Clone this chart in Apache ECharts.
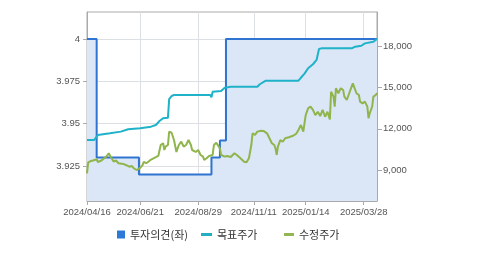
<!DOCTYPE html>
<html><head><meta charset="utf-8">
<script src="https://cdn.jsdelivr.net/npm/echarts@6/dist/echarts.min.js"></script>
<style>html,body{margin:0;padding:0;background:#fff}#c{width:479px;height:255px}</style>
</head><body><div id="c"></div>
<script>
// KRX trading days (categories)
const startDate = '2024-04-16';
const endDate = '2025-04-14';
const holidays = ['2024-05-01','2024-05-06','2024-05-15','2024-06-06','2024-08-15','2024-09-16','2024-09-17','2024-09-18','2024-10-01','2024-10-03','2024-10-09','2024-12-25','2024-12-31','2025-01-01','2025-01-27','2025-01-28','2025-01-29','2025-01-30','2025-03-03'];
const tickLabels = ['2024/04/16','2024/06/21','2024/08/29','2024/11/11','2025/01/14','2025/03/28'];
const leftTicks = [3.925, 3.95, 3.975, 4];
const rightTicks = [9000, 12000, 15000, 18000];
// 투자의견(좌): [trading-day index, value] at change points
const opinion = [[0,4],[8,3.93],[43,3.92],[103,3.93],[110,3.94],[115,4],[240,4]];
// 목표주가
const target = [[0,11200],[6,11200],[9,11550],[19,11680],[28,11800],[34,11970],[44,12040],[53,12160],[57,12280],[60,12570],[63,12770],[67,12810],[68,14150],[70,14380],[72,14450],[102,14450],[103,14290],[104,14690],[111,14740],[114,14980],[119,15050],[141,15050],[143,15230],[148,15490],[175,15490],[177,15700],[180,16000],[183,16390],[187,16680],[190,16990],[192,17780],[194,17830],[219,17830],[222,17950],[227,18020],[230,18190],[237,18310],[240,18510]];
// 수정주가
const price = [[0,8780],[1,9570],[3,9670],[5,9710],[6,9640],[8,9800],[9,9600],[12,9710],[14,9860],[16,9990],[18,10230],[19,10110],[20,9930],[22,9640],[24,9710],[26,9510],[27,9600],[30,9460],[31,9550],[33,9350],[35,9260],[37,9310],[39,9130],[41,9020],[42,8910],[44,9170],[46,9380],[47,9620],[49,9510],[51,9640],[53,9780],[55,9870],[57,9960],[59,10040],[61,10830],[63,10960],[64,10470],[65,10710],[67,10830],[68,11800],[70,11720],[71,11680],[72,11190],[74,10330],[76,10830],[78,11070],[80,10720],[82,10830],[84,11190],[86,10830],[87,10470],[90,10330],[92,10470],[94,10110],[96,9990],[97,9750],[99,9870],[101,10040],[104,10110],[105,10830],[107,11000],[108,10960],[110,10590],[111,10110],[114,9990],[116,10040],[119,9960],[122,10230],[124,10110],[127,9870],[130,9620],[132,9580],[134,9870],[136,10830],[137,11680],[139,11560],[141,11800],[144,11870],[146,11850],[149,11680],[151,11320],[153,10960],[155,10830],[156,10590],[157,10110],[158,10710],[160,11190],[162,11070],[164,11320],[167,11390],[170,11480],[173,11630],[175,11920],[177,12280],[179,11800],[180,12400],[181,13000],[183,13490],[185,13610],[187,13370],[189,13000],[191,13240],[193,12930],[195,13370],[197,12880],[199,13240],[201,12690],[202,14690],[204,14330],[205,13610],[206,14940],[208,14580],[210,14940],[212,14810],[213,14330],[215,14090],[217,14580],[218,14450],[220,15300],[221,15180],[223,14580],[225,14450],[226,13970],[228,13850],[230,13970],[232,13610],[233,12770],[234,13130],[236,13610],[237,14330],[239,14450],[240,14600]];

function pad(n){return n<10?'0'+n:''+n;}
const dates = [];
{
  let t = Date.parse(startDate+'T00:00:00Z');
  const e = Date.parse(endDate+'T00:00:00Z');
  while (t <= e) {
    const d = new Date(t);
    const key = d.getUTCFullYear()+'-'+pad(d.getUTCMonth()+1)+'-'+pad(d.getUTCDate());
    const wd = d.getUTCDay();
    if (wd !== 0 && wd !== 6 && holidays.indexOf(key) < 0) dates.push(key.replace(/-/g,'/'));
    t += 86400000;
  }
}
const showTick = (i, v) => tickLabels.indexOf(v) >= 0;
const font = 'Liberation Sans, Arial, sans-serif';
const chart = echarts.init(document.getElementById('c'), null, {renderer:'canvas'});
chart.setOption({
  animation:false,
  grid:{left:87,right:102,top:12,bottom:54,show:true,borderColor:'#aaaaaa',borderWidth:1,backgroundColor:'transparent',containLabel:false,outerBoundsMode:'none'},
  legend:[
    {left:117,top:229,padding:0,itemWidth:8,itemHeight:8,textStyle:{fontFamily:'Noto Sans CJK KR',fontSize:11,color:'#333'},data:[{name:'투자의견(좌)',icon:'rect',itemStyle:{color:'#2c7ad6'}}]},
    {left:201,top:229,padding:0,itemWidth:11,itemHeight:3,textStyle:{fontFamily:'Noto Sans CJK KR',fontSize:11,color:'#333'},data:[{name:'목표주가',icon:'rect',itemStyle:{color:'#22afc4'}}]},
    {left:284,top:229,padding:0,itemWidth:10,itemHeight:3,textStyle:{fontFamily:'Noto Sans CJK KR',fontSize:11,color:'#333'},data:[{name:'수정주가',icon:'rect',itemStyle:{color:'#93b653'}}]}
  ],
  xAxis:{type:'category',data:dates,boundaryGap:false,
    axisLine:{lineStyle:{color:'#aaaaaa'}},
    axisTick:{interval:showTick,length:4,lineStyle:{color:'#aaaaaa'}},
    axisLabel:{interval:showTick,margin:6,fontSize:9.5,fontFamily:font,color:'#555'},
    splitLine:{show:true,interval:showTick,lineStyle:{color:'#dcdfe4'}}},
  yAxis:[
    {type:'value',min:3.90433,max:4.01594,position:'left',
      axisLine:{show:true,lineStyle:{color:'#aaaaaa'}},
      axisTick:{show:true,length:4,customValues:leftTicks,lineStyle:{color:'#aaaaaa'}},
      axisLabel:{customValues:leftTicks,margin:7,fontSize:9.5,fontFamily:font,color:'#555',formatter:v=>String(+(+v).toFixed(3))},
      splitLine:{show:true,lineStyle:{color:'#dcdfe4'}}},
    {type:'value',min:6777,max:20462,position:'right',
      axisLine:{show:true,lineStyle:{color:'#aaaaaa'}},
      axisTick:{show:true,length:5,customValues:rightTicks,lineStyle:{color:'#aaaaaa'}},
      axisLabel:{customValues:rightTicks,margin:6,fontSize:9.5,fontFamily:font,color:'#555',formatter:v=>String(Math.round(v)).replace(/\B(?=(\d{3})+(?!\d))/g,',')},
      splitLine:{show:false}}
  ],
  series:[
    {name:'투자의견(좌)',type:'line',yAxisIndex:0,step:'end',data:opinion,showSymbol:false,
      lineStyle:{color:'#2f74d0',width:2},itemStyle:{color:'#2c7ad6'},
      areaStyle:{color:'#dbe6f6',opacity:1,origin:'start'},z:1},
    {name:'목표주가',type:'line',yAxisIndex:1,data:target,showSymbol:false,
      lineStyle:{color:'#1fb2c8',width:2},itemStyle:{color:'#22afc4'},z:2},
    {name:'수정주가',type:'line',yAxisIndex:1,data:price,showSymbol:false,
      lineStyle:{color:'#8fb54c',width:2},itemStyle:{color:'#93b653'},z:3}
  ]
});
</script></body></html>
